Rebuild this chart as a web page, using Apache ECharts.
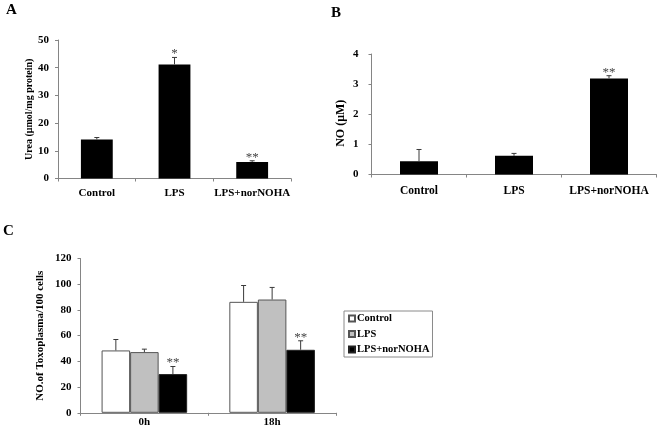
<!DOCTYPE html>
<html>
<head>
<meta charset="utf-8">
<script src="https://cdn.jsdelivr.net/npm/echarts@6/dist/echarts.min.js"></script>
<style>
html,body{margin:0;padding:0;background:#fff;}
#chart{width:661px;height:436px;}
</style>
</head>
<body>
<div id="chart"></div>
<script>
// ---- Data ----
const catsAB = ['Control', 'LPS', 'LPS+norNOHA'];
const ureaMean = [14.1, 41.2, 6.0];
const ureaUpper = [14.8, 43.7, 6.4];
const ureaSig = ['', '*', '**'];

const noMean = [0.44, 0.62, 3.19];
const noUpper = [0.83, 0.70, 3.28];
const noSig = ['', '', '**'];

const groupsC = ['0h', '18h'];
const seriesC = ['Control', 'LPS', 'LPS+norNOHA'];
const ctrlMean = [48.5, 86.3];
const ctrlUpper = [57.0, 99.0];
const lpsMean = [47.2, 88.1];
const lpsUpper = [49.5, 97.5];
const norMean = [30.1, 49.0];
const norUpper = [36.0, 56.0];
const norSig = ['**', '**'];

// ---- Styles ----
const FONT = '"Liberation Serif", "Times New Roman", serif';
const AXIS_COLOR = '#858585';
const ERR_COLOR = '#3a3a3a';
const catGapC = 0.33;

function errSeries(name, gridIdx, means, uppers, sigs, offsetIdx, nInGroup, gap) {
  const data = means.map((m, i) => [i, m, uppers[i]]);
  return {
    type: 'custom',
    name: name,
    xAxisIndex: gridIdx,
    yAxisIndex: gridIdx,
    z: 5,
    silent: true,
    data: data,
    renderItem: function (params, api) {
      const ci = api.value(0);
      const base = api.coord([ci, api.value(1)]);
      const top = api.coord([ci, api.value(2)]);
      const band = api.size([1, 0])[0];
      let x = base[0];
      if (nInGroup > 1) {
        const bw = band * (1 - gap) / nInGroup;
        x = base[0] + (offsetIdx - (nInGroup - 1) / 2) * bw;
      }
      const children = [
        { type: 'line', shape: { x1: x, y1: base[1], x2: x, y2: top[1] }, style: { stroke: ERR_COLOR, lineWidth: 1 } },
        { type: 'line', shape: { x1: x - 2.5, y1: top[1], x2: x + 2.5, y2: top[1] }, style: { stroke: ERR_COLOR, lineWidth: 1 } }
      ];
      const s = sigs ? sigs[params.dataIndex] : '';
      if (s) {
        children.push({
          type: 'text',
          style: { text: s, x: x, y: top[1] + 3, align: 'center', verticalAlign: 'bottom', fill: '#444', font: '13px ' + FONT }
        });
      }
      return { type: 'group', children: children };
    }
  };
}

function yAxisCfg(grid, max, interval, name, nameGap, labelMargin, nameSize, namePad) {
  return {
    gridIndex: grid, type: 'value', min: 0, max: max, interval: interval,
    name: name, nameLocation: 'middle', nameRotate: 90, nameGap: nameGap,
    nameTextStyle: { fontFamily: FONT, fontWeight: 'bold', fontSize: nameSize, color: '#000', padding: namePad },
    axisLine: { show: true, lineStyle: { color: AXIS_COLOR, width: 1 } },
    axisTick: { show: true, length: 3, lineStyle: { color: AXIS_COLOR } },
    axisLabel: { fontFamily: FONT, fontWeight: 'bold', fontSize: 11, color: '#000', margin: labelMargin },
    splitLine: { show: false }
  };
}

function xAxisCfg(grid, cats, fontSize, margin) {
  return {
    gridIndex: grid, type: 'category', data: cats,
    axisLine: { show: true, lineStyle: { color: AXIS_COLOR, width: 1 } },
    axisTick: { show: true, length: 3, lineStyle: { color: AXIS_COLOR } },
    axisLabel: { fontFamily: FONT, fontWeight: 'bold', fontSize: fontSize, color: '#000', margin: margin, interval: 0 }
  };
}

const chart = echarts.init(document.getElementById('chart'), null, { renderer: 'canvas' });
const option = {
  animation: false,
  backgroundColor: '#fff',
  title: [
    { text: 'A', left: 6, top: 3, padding: 0, textStyle: { fontFamily: FONT, fontWeight: 'bold', fontSize: 15, color: '#000' } },
    { text: 'B', left: 331, top: 6, padding: 0, textStyle: { fontFamily: FONT, fontWeight: 'bold', fontSize: 15, color: '#000' } },
    { text: 'C', left: 3, top: 224, padding: 0, textStyle: { fontFamily: FONT, fontWeight: 'bold', fontSize: 15, color: '#000' } }
  ],
  grid: [
    { left: 58, top: 40, width: 233, height: 138.5 },
    { left: 371.5, top: 54, width: 285, height: 120.5 },
    { left: 80.5, top: 258.5, width: 255.5, height: 154.3 }
  ],
  xAxis: [
    xAxisCfg(0, catsAB, 11, 9),
    xAxisCfg(1, catsAB, 11.5, 11),
    xAxisCfg(2, groupsC, 11, 4)
  ],
  yAxis: [
    yAxisCfg(0, 50, 10, 'Urea (μmol/mg protein)', 24, 9, 10, 0),
    yAxisCfg(1, 4, 1, 'NO (μM)', 25, 13, 12, [0, 18, 0, 0]),
    yAxisCfg(2, 120, 20, 'NO.of Toxoplasma/100 cells', 35, 9, 11, 0)
  ],
  legend: {
    data: seriesC,
    orient: 'vertical',
    left: 344, top: 311,
    itemWidth: 6, itemHeight: 6, itemGap: 4.5,
    icon: 'rect',
    padding: [2, 3, 2, 4],
    borderColor: '#8a8a8a', borderWidth: 1,
    textStyle: { fontFamily: FONT, fontWeight: 'bold', fontSize: 10.5, color: '#000', padding: [0, 0, 0, -3] },
    selectedMode: false
  },
  series: [
    { type: 'bar', name: 'urea', xAxisIndex: 0, yAxisIndex: 0, data: ureaMean, barCategoryGap: '59%', itemStyle: { color: '#000' }, silent: true },
    errSeries('ureaErr', 0, ureaMean, ureaUpper, ureaSig, 0, 1, 0),
    { type: 'bar', name: 'no', xAxisIndex: 1, yAxisIndex: 1, data: noMean, barCategoryGap: '60%', itemStyle: { color: '#000' }, silent: true },
    errSeries('noErr', 1, noMean, noUpper, noSig, 0, 1, 0),
    { type: 'bar', name: seriesC[0], xAxisIndex: 2, yAxisIndex: 2, data: ctrlMean, barGap: '0%', barCategoryGap: (catGapC * 100) + '%',
      itemStyle: { color: '#fff', borderColor: '#555', borderWidth: 1 }, silent: true },
    { type: 'bar', name: seriesC[1], xAxisIndex: 2, yAxisIndex: 2, data: lpsMean, barGap: '0%', barCategoryGap: (catGapC * 100) + '%',
      itemStyle: { color: '#c0c0c0', borderColor: '#555', borderWidth: 1 }, silent: true },
    { type: 'bar', name: seriesC[2], xAxisIndex: 2, yAxisIndex: 2, data: norMean, barGap: '0%', barCategoryGap: (catGapC * 100) + '%',
      itemStyle: { color: '#000', borderColor: '#222', borderWidth: 1 }, silent: true },
    errSeries('ctrlErr', 2, ctrlMean, ctrlUpper, null, 0, 3, catGapC),
    errSeries('lpsErr', 2, lpsMean, lpsUpper, null, 1, 3, catGapC),
    errSeries('norErr', 2, norMean, norUpper, norSig, 2, 3, catGapC)
  ]
};
chart.setOption(option);
</script>
</body>
</html>
